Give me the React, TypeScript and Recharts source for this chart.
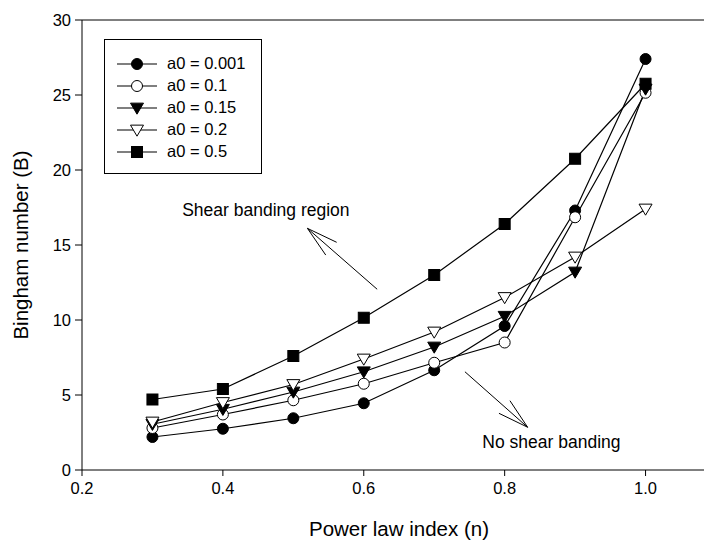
import React from "react";
import {
  LineChart,
  Line,
  XAxis,
  YAxis,
  ReferenceLine,
  ReferenceDot,
  Legend,
} from "recharts";

const nValues = [0.3, 0.4, 0.5, 0.6, 0.7, 0.8, 0.9, 1.0];
const a0_0001 = [2.2, 2.75, 3.45, 4.45, 6.65, 9.6, 17.3, 27.4];
const a0_01 = [2.8, 3.7, 4.65, 5.75, 7.15, 8.5, 16.85, 25.15];
const a0_015 = [3.05, 4.05, 5.2, 6.55, 8.2, 10.25, 13.2, 25.4];
const a0_02 = [3.2, 4.5, 5.7, 7.4, 9.2, 11.5, 14.2, 17.4];
const a0_05 = [4.7, 5.4, 7.6, 10.15, 13.0, 16.4, 20.75, 25.75];

const xTicks = [0.2, 0.4, 0.6, 0.8, 1.0];
const yTicks = [0, 5, 10, 15, 20, 25, 30];

const seriesNames = ["a0 = 0.001", "a0 = 0.1", "a0 = 0.15", "a0 = 0.2", "a0 = 0.5"];
const seriesKeys = ["s1", "s2", "s3", "s4", "s5"];
const seriesShapes = ["circleFilled", "circleOpen", "triFilled", "triOpen", "square"];

const data = nValues.map((n, i) => ({
  n,
  s1: a0_0001[i],
  s2: a0_01[i],
  s3: a0_015[i],
  s4: a0_02[i],
  s5: a0_05[i],
}));

// annotation arrows (data coordinates)
const arrow1 = {
  tail: { x: 0.619, y: 12.05 },
  tip: { x: 0.52, y: 16.11 },
  h1: { x: 0.5615, y: 15.18 },
  h2: { x: 0.546, y: 14.33 },
};
const arrow2 = {
  tail: { x: 0.7436, y: 6.55 },
  tip: { x: 0.8326, y: 2.85 },
  h1: { x: 0.7919, y: 3.78 },
  h2: { x: 0.8075, y: 4.62 },
};
const text1 = { x: 0.461, y: 17.33, label: "Shear banding region" };
const text2 = { x: 0.8664, y: 1.89, label: "No shear banding" };

const FONT = "'Liberation Sans', Arial, sans-serif";

function Marker({ shape, cx, cy }: { shape: string; cx: number; cy: number }) {
  const r = 5.5;
  switch (shape) {
    case "circleFilled":
      return <circle cx={cx} cy={cy} r={r} fill="#000" stroke="#000" strokeWidth={1} />;
    case "circleOpen":
      return <circle cx={cx} cy={cy} r={r} fill="#fff" stroke="#000" strokeWidth={1} />;
    case "triFilled": {
      const s = 6.5;
      return (
        <polygon
          points={`${cx - s},${cy - s * 0.75} ${cx + s},${cy - s * 0.75} ${cx},${cy + s * 0.95}`}
          fill="#000"
          stroke="#000"
          strokeWidth={1}
        />
      );
    }
    case "triOpen": {
      const s = 6.5;
      return (
        <polygon
          points={`${cx - s},${cy - s * 0.75} ${cx + s},${cy - s * 0.75} ${cx},${cy + s * 0.95}`}
          fill="#fff"
          stroke="#000"
          strokeWidth={1}
        />
      );
    }
    default:
      return <rect x={cx - 5.5} y={cy - 5.5} width={11} height={11} fill="#000" stroke="#000" strokeWidth={1} />;
  }
}

const makeDot = (shape: string) => (props: any) => {
  const { cx, cy, index } = props;
  if (cx == null || cy == null) return <g key={`d-${shape}-${index}`} />;
  return (
    <g key={`d-${shape}-${index}`}>
      <Marker shape={shape} cx={cx} cy={cy} />
    </g>
  );
};

function LegendBox() {
  return (
    <div
      style={{
        position: "absolute",
        left: 104,
        top: 39,
        width: 158,
        height: 135,
        border: "1px solid #000",
        background: "#fff",
        boxSizing: "border-box",
        fontFamily: FONT,
      }}
    >
      {seriesNames.map((name, i) => (
        <div
          key={name}
          style={{
            position: "absolute",
            left: 0,
            top: 24.3 + i * 21.8 - 11,
            height: 22,
            width: 156,
          }}
        >
          <svg width={56} height={22} style={{ position: "absolute", left: 0, top: 0 }}>
            <line x1={12} y1={11} x2={52} y2={11} stroke="#000" strokeWidth={1.2} />
            <Marker shape={seriesShapes[i]} cx={32} cy={11} />
          </svg>
          <span
            style={{
              position: "absolute",
              left: 62,
              top: 1,
              fontSize: 16.5,
              lineHeight: "19px",
              color: "#000",
              whiteSpace: "nowrap",
            }}
          >
            {name}
          </span>
        </div>
      ))}
    </div>
  );
}

const textShape = (label: string) => (p: any) => (
  <text
    x={p.cx}
    y={p.cy}
    textAnchor="middle"
    dominantBaseline="central"
    fontSize={17.5}
    fontFamily={FONT}
    fill="#000"
  >
    {label}
  </text>
);

export default function App() {
  const arrowLines = [arrow1, arrow2].flatMap((a, k) => [
    { key: `a${k}-shaft`, seg: [a.tail, a.tip] },
    { key: `a${k}-h1`, seg: [a.tip, a.h1] },
    { key: `a${k}-h2`, seg: [a.tip, a.h2] },
  ]);
  return (
    <div
      style={{
        position: "absolute",
        left: 0,
        top: 0,
        width: 704,
        height: 547,
        overflow: "hidden",
        background: "#fff",
      }}
    >
      <LineChart
        width={720}
        height={547}
        data={data}
        margin={{ top: 20, right: 4, bottom: 27, left: 22 }}
        style={{ fontFamily: FONT }}
      >
        <XAxis
          dataKey="n"
          type="number"
          domain={[0.2, 1.1]}
          ticks={xTicks}
          tickFormatter={(v: number) => v.toFixed(1)}
          allowDataOverflow
          height={50}
          stroke="#000"
          tickSize={6}
          tick={{ fill: "#000", fontSize: 16.5, fontFamily: FONT }}
          tickMargin={6}
          label={{
            value: "Power law index (n)",
            position: "insideBottom",
            offset: -16,
            fontSize: 20.5,
            fill: "#000",
            fontFamily: FONT,
          }}
        />
        <YAxis
          type="number"
          domain={[0, 30]}
          ticks={yTicks}
          width={60}
          stroke="#000"
          tickSize={7}
          tick={{ fill: "#000", fontSize: 16.5, fontFamily: FONT }}
          tickMargin={4}
          label={{
            value: "Bingham number (B)",
            angle: -90,
            position: "insideLeft",
            offset: 0,
            dx: -1,
            style: { textAnchor: "middle" },
            fontSize: 20.5,
            fill: "#000",
            fontFamily: FONT,
          }}
        />
        <ReferenceLine y={30} stroke="#000" strokeWidth={1} ifOverflow="extendDomain" />
        {arrowLines.map((l) => (
          <ReferenceLine key={l.key} segment={l.seg as any} stroke="#000" strokeWidth={1} />
        ))}
        <ReferenceDot x={text1.x} y={text1.y} r={0} shape={textShape(text1.label)} />
        <ReferenceDot x={text2.x} y={text2.y} r={0} shape={textShape(text2.label)} />
        {seriesKeys.map((k, i) => (
          <Line
            key={k}
            dataKey={k}
            name={seriesNames[i]}
            stroke="#000"
            strokeWidth={1.2}
            dot={makeDot(seriesShapes[i])}
            activeDot={false}
            isAnimationActive={false}
          />
        ))}
        <Legend content={() => null} />
      </LineChart>
      <LegendBox />
    </div>
  );
}
